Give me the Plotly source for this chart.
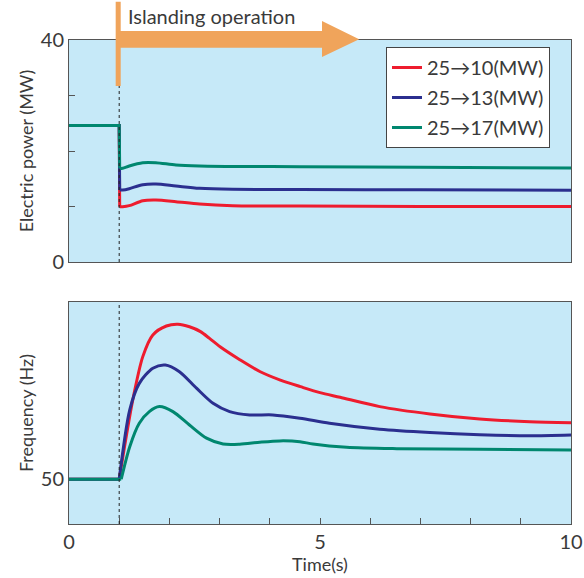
import plotly.graph_objects as go

# ---------------- data ----------------
series_names = ["25→10(MW)", "25→13(MW)", "25→17(MW)"]
series_colors = ["#ee1c2e", "#2b2f8f", "#00876f"]

# Electric power (MW)
p_time = [0, 1.0, 1.01, 1.07, 1.2, 1.47, 1.73, 2.13, 2.6, 3.26, 4.6, 7.0, 10.0]
p_red = [24.6, 24.6, 9.97, 9.97, 10.15, 11.05, 11.17, 10.87, 10.45, 10.15, 10.09, 10.02, 10.0]
p_blue = [24.6, 24.6, 12.97, 12.97, 13.21, 13.93, 14.05, 13.69, 13.28, 13.10, 13.08, 13.0, 12.95]
p_green = [24.6, 24.6, 16.88, 16.88, 17.30, 17.89, 17.89, 17.48, 17.30, 17.22, 17.18, 17.05, 16.95]

# Frequency (Hz)
f_red_t = [0, 1.0, 1.27, 1.47, 1.67, 1.94, 2.17, 2.40, 2.62, 2.80, 3.01, 3.41, 3.81, 4.21, 4.61,
           5.0, 5.40, 6.19, 7.19, 8.18, 9.18, 10.0]
f_red = [50.0, 50.0, 50.409, 50.633, 50.745, 50.791, 50.800, 50.787, 50.762, 50.727, 50.684,
         50.616, 50.555, 50.512, 50.478, 50.447, 50.423, 50.375, 50.337, 50.311, 50.297, 50.292]
f_blue_t = [0, 1.0, 1.21, 1.40, 1.67, 1.92, 2.20, 2.54, 2.87, 3.20, 3.60, 4.06, 4.60,
            5.19, 6.19, 7.19, 8.18, 9.18, 10.0]
f_blue = [50.0, 50.0, 50.358, 50.495, 50.573, 50.590, 50.555, 50.470, 50.392, 50.349, 50.332,
          50.332, 50.315, 50.289, 50.258, 50.241, 50.230, 50.225, 50.229]
f_green_t = [0, 1.04, 1.21, 1.40, 1.60, 1.80, 2.07, 2.40, 2.74, 3.07, 3.40, 3.80, 4.20, 4.60,
             4.86, 5.53, 6.53, 8.18, 10.0]
f_green = [50.0, 50.0, 50.168, 50.289, 50.349, 50.375, 50.349, 50.280, 50.212, 50.182, 50.181,
           50.191, 50.198, 50.194, 50.182, 50.165, 50.158, 50.155, 50.151]

islanding_time = 1.0
x_ticks = list(range(0, 11))
x_ticktext = ["0", "", "", "", "", "5", "", "", "", "", "10"]
p_ticks = [0, 10, 20, 30, 40]
p_ticktext = ["0", "", "", "", "40"]
f_ticks = [50]

# ---------------- figure ----------------
FONT = "Lato, 'Noto Sans', sans-serif"
TXT = "#3a3a3a"
BG = "#c6e9f8"

fig = go.Figure()
power = [p_red, p_blue, p_green]
freq = [(f_red_t, f_red), (f_blue_t, f_blue), (f_green_t, f_green)]


def split_at_step(t, v, k):
    """flat pre-event part (linear) and the response (smooth)"""
    return (t[:k + 1], v[:k + 1]), (t[k:], v[k:])


for i, name in enumerate(series_names):
    (t1, v1), (t2, v2) = split_at_step(p_time, power[i], 2)
    fig.add_trace(go.Scatter(x=t1, y=v1, mode="lines", name=name, legendgroup=name,
                             showlegend=True, line=dict(color=series_colors[i], width=3),
                             xaxis="x2", yaxis="y2"))
    fig.add_trace(go.Scatter(x=t2, y=v2, mode="lines", name=name, legendgroup=name,
                             showlegend=False,
                             line=dict(color=series_colors[i], width=3, shape="spline", smoothing=0.8),
                             xaxis="x2", yaxis="y2"))
for i, name in enumerate(series_names):
    t, f = freq[i]
    (t1, v1), (t2, v2) = split_at_step(t, f, 1)
    fig.add_trace(go.Scatter(x=t1, y=v1, mode="lines", name=name, legendgroup=name,
                             showlegend=False, line=dict(color=series_colors[i], width=3),
                             xaxis="x", yaxis="y"))
    fig.add_trace(go.Scatter(x=t2, y=v2, mode="lines", name=name, legendgroup=name,
                             showlegend=False,
                             line=dict(color=series_colors[i], width=3, shape="spline", smoothing=0.8),
                             xaxis="x", yaxis="y"))

top = 262
bot = 524
ptop = 40
H = bot - ptop
def py(yo):
    return (bot - yo) / H

axis_common = dict(showgrid=False, zeroline=False, showline=True, linecolor="#555",
                   linewidth=1, mirror=True, automargin=False)

fig.update_layout(
    width=584, height=578,
    margin=dict(l=69, r=13, t=ptop, b=578 - bot),
    paper_bgcolor="white", plot_bgcolor=BG,
    font=dict(family=FONT, color=TXT, size=17),
    xaxis=dict(**axis_common, domain=[0, 1], range=[0, 10], tickvals=x_ticks, ticktext=x_ticktext,
               ticks="inside", ticklen=6, tickcolor="#555", tickfont=dict(size=20),
               title=dict(text="Time(s)", font=dict(size=18), standoff=2), anchor="y"),
    yaxis=dict(**axis_common, domain=[0, py(302)], range=[49.769, 50.915], tickvals=f_ticks,
               ticks="", tickfont=dict(size=20), anchor="x",
               title=dict(text="Frequency (Hz)", font=dict(size=18), standoff=2)),
    xaxis2=dict(**axis_common, domain=[0, 1], range=[0, 10], matches="x", showticklabels=False,
                ticks="", anchor="y2"),
    yaxis2=dict(**axis_common, domain=[py(top), 1], range=[0, 40], tickvals=p_ticks,
                ticktext=p_ticktext, ticks="inside", ticklen=6, tickcolor="#555",
                tickfont=dict(size=20), anchor="x2",
                title=dict(text="Electric power (MW)", font=dict(size=18), standoff=2)),
    legend=dict(x=(386 - 69) / 502, y=py(47), xanchor="left", yanchor="top",
                bgcolor="white", bordercolor="#444", borderwidth=1,
                font=dict(size=20, color=TXT), tracegroupgap=1, itemwidth=30),
    showlegend=True,
)

# dashed vertical lines at islanding time
for yr in ["y domain", "y2 domain"]:
    fig.add_shape(type="line", xref="x", yref=yr, x0=islanding_time, x1=islanding_time,
                  y0=0, y1=1, line=dict(color="#222", width=1, dash="3px,3px"), layer="above")

# orange arrow (paper coordinates)
def px(t):
    return t / 10.0
bar_l, bar_r = px(0.93), px(1.03)
head_start, tip = px(5.04), px(5.78)
path = (f"M {bar_l},{py(1.7)} L {bar_r},{py(1.7)} L {bar_r},{py(31)} L {head_start},{py(31)} "
        f"L {head_start},{py(21)} L {tip},{py(39.3)} L {head_start},{py(57)} L {head_start},{py(47.7)} "
        f"L {bar_r},{py(47.7)} L {bar_r},{py(86)} L {bar_l},{py(86)} Z")
fig.add_shape(type="path", xref="paper", yref="paper", path=path,
              fillcolor="#f0a45b", line=dict(width=0), layer="above")

fig.add_annotation(xref="paper", yref="paper", x=(126 - 69) / 502, y=py(16), text="Islanding operation",
                   showarrow=False, xanchor="left", yanchor="middle", font=dict(size=20, color=TXT))

fig.write_html("out.html", config={"displayModeBar": False},
               post_script="document.body.style.margin='0';document.body.style.padding='0';")
